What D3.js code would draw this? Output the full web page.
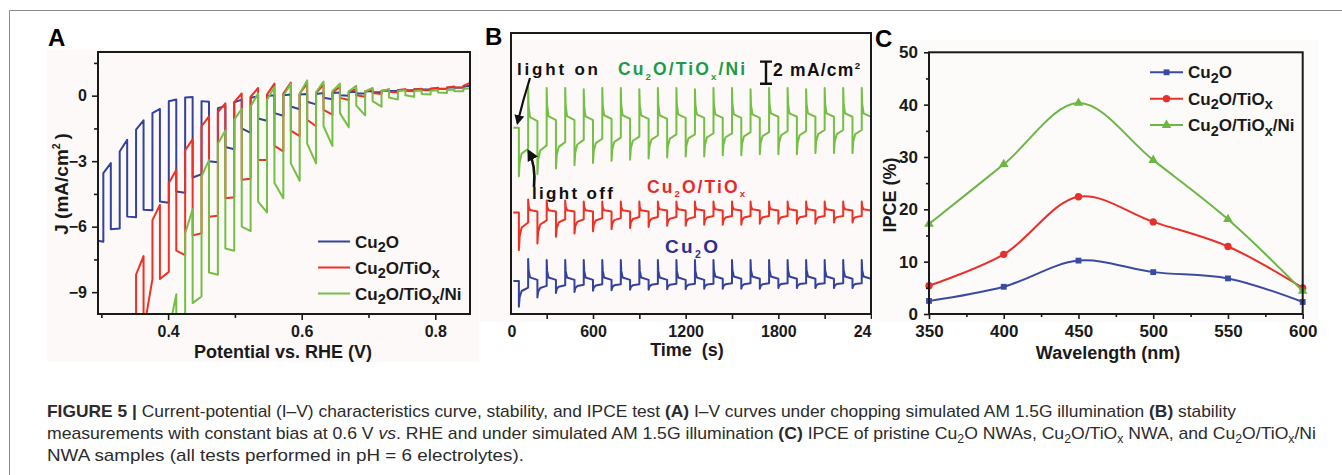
<!DOCTYPE html>
<html>
<head>
<meta charset="utf-8">
<script src="https://cdn.jsdelivr.net/npm/d3@7"></script>
<style>
  body { margin: 0; background: #fff; }
  svg { display: block; font-family: "Liberation Sans", Arial, sans-serif; }
</style>
</head>
<body>
<script>
// ---------- panel A: chopped I-V (V vs RHE, J in mA/cm2) ----------
const chopV = [0.303, 0.3275, 0.352, 0.3765, 0.401, 0.4255, 0.450, 0.4745, 0.499, 0.5235, 0.548, 0.5725,
  0.597, 0.6215, 0.646, 0.6705, 0.695, 0.7195, 0.744, 0.7685, 0.793, 0.8175, 0.842];
const darkWidth = 0.0112;
// each row: [dark start, dark end, light start, light end]
const cu2oPre = [-6.64, -6.69];
const cu2oIV = [
  [-3.55, -3.09, -6.12, -6.08], [-2.56, -2.02, -5.54, -5.57], [-1.56, -1.13, -5.23, -5.25],
  [-0.80, -0.61, -4.85, -4.90], [-0.26, -0.18, -4.39, -4.45], [-0.08, -0.06, -3.75, -3.60],
  [-0.25, -0.28, -3.00, -3.05], [-0.57, -0.47, -2.35, -2.45], [-0.30, -0.18, -1.50, -1.70],
  [-0.10, -0.03, -1.05, -1.15], [-0.02, 0.02, -0.80, -0.92], [0.02, 0.05, -0.50, -0.62],
  [0.05, 0.08, -0.28, -0.40], [0.08, 0.12, -0.10, -0.16], [0.12, 0.15, 0.02, 0.0],
  [0.16, 0.18, 0.10, 0.10], [0.19, 0.21, 0.16, 0.16], [0.22, 0.24, 0.21, 0.21],
  [0.26, 0.27, 0.25, 0.25], [0.29, 0.30, 0.28, 0.29], [0.32, 0.34, 0.32, 0.33],
  [0.36, 0.38, 0.36, 0.37], [0.41, 0.46, 0.43, 0.50]
];
const cu2oTiPre = [-14, -13];
const cu2oTiIV = [
  [-13.0, -12.5, -14.0, -13.5], [-11.5, -11.0, -13.0, -12.5], [-8.20, -7.35, -10.8, -8.40],
  [-5.70, -5.00, -8.40, -8.07], [-4.00, -3.40, -7.10, -7.30], [-2.50, -2.00, -6.40, -6.30],
  [-1.40, -0.95, -5.55, -5.50], [-0.75, -0.35, -4.70, -4.65], [-0.30, 0.10, -3.85, -3.80],
  [-0.05, 0.35, -2.95, -2.95], [0.05, 0.55, -2.30, -2.55], [0.10, 0.60, -1.60, -1.85],
  [0.10, 0.55, -1.10, -1.40], [0.12, 0.50, -0.65, -0.87], [0.15, 0.40, -0.10, -0.20],
  [0.18, 0.30, 0.02, -0.05], [0.20, 0.28, 0.12, 0.08], [0.22, 0.28, 0.18, 0.15],
  [0.25, 0.30, 0.22, 0.20], [0.28, 0.32, 0.26, 0.25], [0.32, 0.36, 0.30, 0.30],
  [0.38, 0.42, 0.37, 0.37], [0.45, 0.60, 0.50, 0.66]
];
const cu2oTiNiPre = [-16, -15];
const cu2oTiNiIV = [
  [-15.0, -14.5, -16.0, -15.5], [-14.0, -13.5, -15.0, -14.5], [-13.0, -12.5, -14.0, -13.5],
  [-12.0, -11.5, -13.0, -12.5], [-10.8, -9.10, -12.0, -11.0], [-6.30, -5.20, -9.50, -9.20],
  [-3.70, -2.95, -8.10, -8.20], [-2.20, -1.60, -7.00, -7.10], [-1.10, -0.60, -6.00, -6.20],
  [-0.50, 0.10, -4.85, -5.35], [-0.20, 0.40, -4.00, -4.70], [0.00, 0.55, -3.10, -3.90],
  [0.10, 0.70, -2.20, -3.10], [0.15, 0.65, -1.40, -2.30], [0.20, 0.55, -0.80, -1.45],
  [0.20, 0.45, -0.45, -0.90], [0.20, 0.35, -0.25, -0.50], [0.20, 0.30, -0.08, -0.18],
  [0.20, 0.25, 0.02, -0.05], [0.21, 0.24, 0.08, 0.05], [0.22, 0.25, 0.14, 0.12],
  [0.26, 0.28, 0.20, 0.20], [0.30, 0.35, 0.28, 0.45]
];

// ---------- panel B: stability at 0.6 V (offset traces, mA/cm2) ----------
const stabStart = 84;
const lightOnTimes = [120, 240, 360, 480, 600, 720, 840, 960, 1080, 1200, 1320, 1440, 1560, 1680,
  1800, 1920, 2040, 2160, 2280];
const halfPeriod = 60;
const greenDark = [16.9, 17.5, 17.6, 17.6, 17.6, 17.7, 17.7, 17.7, 17.7, 17.8, 17.8, 17.8, 17.8, 17.8,
  17.9, 17.9, 17.9, 17.9, 17.9, 17.9];
const greenLow = [12.5, 12.7, 13.2, 13.5, 13.7, 13.9, 14.0, 14.1, 14.2, 14.3, 14.3, 14.4, 14.4, 14.5,
  14.5, 14.5, 14.6, 14.6, 14.6];
const greenLight = [15.0, 15.3, 15.6, 15.8, 15.9, 16.0, 16.1, 16.2, 16.3, 16.3, 16.4, 16.4, 16.5, 16.5,
  16.6, 16.6, 16.7, 16.7, 16.7];
const greenPeak = [20.6, 20.5, 20.5, 20.4, 20.5, 20.5, 20.4, 20.5, 20.5, 20.4, 20.5, 20.5, 20.4, 20.5,
  20.5, 20.4, 20.5, 20.5, 20.5];
const redDark = [9.2, 9.3, 9.3, 9.3, 9.3, 9.3, 9.3, 9.3, 9.4, 9.4, 9.4, 9.4, 9.4, 9.4, 9.4, 9.4, 9.4,
  9.4, 9.4, 9.4];
const redLow = [5.8, 6.4, 7.0, 7.3, 7.5, 7.7, 7.8, 7.9, 8.0, 8.0, 8.1, 8.1, 8.1, 8.2, 8.2, 8.2, 8.2,
  8.3, 8.3];
const redLight = [8.3, 8.5, 8.6, 8.6, 8.7, 8.7, 8.8, 8.8, 8.8, 8.8, 8.9, 8.9, 8.9, 8.9, 8.9, 8.9, 8.9,
  8.9, 8.9];
const redPeak = [10.4, 10.3, 10.3, 10.2, 10.2, 10.2, 10.2, 10.2, 10.2, 10.2, 10.2, 10.2, 10.2, 10.2,
  10.2, 10.2, 10.2, 10.2, 10.2];
const blueDark = [3.0, 3.1, 3.1, 3.1, 3.1, 3.1, 3.1, 3.1, 3.1, 3.1, 3.1, 3.2, 3.2, 3.2, 3.2, 3.2, 3.2,
  3.2, 3.2, 3.2];
const blueLow = [0.66, 1.5, 1.9, 2.0, 2.1, 2.15, 2.2, 2.2, 2.25, 2.25, 2.3, 2.3, 2.3, 2.3, 2.35, 2.35,
  2.35, 2.35, 2.35];
const blueLight = [2.4, 2.55, 2.6, 2.65, 2.7, 2.7, 2.7, 2.75, 2.75, 2.75, 2.75, 2.8, 2.8, 2.8, 2.8, 2.8,
  2.8, 2.8, 2.8];
const bluePeak = [5.0, 4.9, 4.9, 4.9, 4.9, 4.9, 4.9, 4.9, 4.9, 4.9, 4.9, 4.9, 4.9, 4.9, 4.9, 4.9, 4.9,
  4.9, 4.9];
// transient shapes: [seconds after switch, fraction of the step]
const recoverShape = [[5, 0.5], [18, 0.82], [60, 1]];
const decayShape = [[3, 0.45], [12, 0.12], [60, 0]];

// ---------- panel C: IPCE ----------
const wavelengths = [350, 400, 450, 500, 550, 600];
const ipceCu2O = [2.5, 5.2, 10.2, 8.0, 6.8, 2.3];
const ipceCu2OTi = [5.4, 11.4, 22.4, 17.6, 12.9, 5.0];
const ipceCu2OTiNi = [17.2, 28.6, 40.3, 29.4, 18.1, 4.4];

const BLUE = "#33429c", RED = "#ee3124", GREEN = "#74bf44";
const FONT = "'Liberation Sans', Arial, sans-serif";

const svg = d3.select("body").append("svg").attr("width", 1342).attr("height", 475);

// rich text helper: parts are strings or [text, "sub"|"sup"|"b"|"i"]
function rich(textSel, parts, size, subScale) {
  let shift = 0;
  parts.forEach(p => {
    const txt = typeof p === "string" ? p : p[0];
    const kind = typeof p === "string" ? null : p[1];
    let target = 0;
    const t = textSel.append("tspan").text(txt);
    if (kind === "sub") { target = size * 0.28; t.attr("font-size", size * subScale); }
    if (kind === "sup") { target = -size * 0.42; t.attr("font-size", size * subScale); }
    if (kind === "b") t.attr("font-weight", "bold");
    if (kind === "i") t.attr("font-style", "italic");
    if (target !== shift) { t.attr("dy", target - shift); shift = target; }
  });
}

// figure border
svg.append("path").attr("d", "M9.5,475V10.5H1342").attr("fill", "none").attr("stroke", "#8a8a8a");

// faint panel backgrounds
svg.append("rect").attr("x", 47).attr("y", 50).attr("width", 432).attr("height", 312).attr("fill", "#fdf9f9");
svg.append("rect").attr("x", 480).attr("y", 40).attr("width", 392).attr("height", 282).attr("fill", "#fdf9f9");

function styleAxis(g, size) {
  g.select(".domain").remove();
  g.selectAll(".tick line").attr("stroke", "#1a1a1a").attr("stroke-width", 1.6);
  g.selectAll(".tick text").attr("font-family", FONT).attr("font-weight", "bold")
    .attr("font-size", size).attr("fill", "#1a1a1a");
}
function minorTicks(g) {
  g.select(".domain").remove();
  g.selectAll(".tick text").remove();
  g.selectAll(".tick line").attr("stroke", "#1a1a1a").attr("stroke-width", 1.6);
}

// ================= PANEL A =================
const xA = d3.scaleLinear().domain([0.295, 0.852]).range([98, 470]);
const yA = d3.scaleLinear().domain([-10, 2]).range([314, 52]);
const gA = svg.append("g");
svg.append("clipPath").attr("id", "clipA").append("rect")
  .attr("x", 98).attr("y", 52).attr("width", 372).attr("height", 262);

function ivPoints(pre, cycles) {
  const pts = [[xA.domain()[0], pre[0]], [chopV[0], pre[1]]];
  cycles.forEach((c, k) => {
    const v0 = chopV[k];
    const v1 = k + 1 < chopV.length ? chopV[k + 1] : xA.domain()[1] + 0.01;
    pts.push([v0, c[0]], [v0 + darkWidth, c[1]], [v0 + darkWidth, c[2]], [v1, c[3]]);
  });
  return pts;
}
const lineA = d3.line().x(d => xA(d[0])).y(d => yA(d[1]));
const seriesA = [
  { pts: ivPoints(cu2oPre, cu2oIV), color: BLUE },
  { pts: ivPoints(cu2oTiPre, cu2oTiIV), color: RED },
  { pts: ivPoints(cu2oTiNiPre, cu2oTiNiIV), color: GREEN }
];
gA.append("g").attr("clip-path", "url(#clipA)").selectAll("path").data(seriesA).enter().append("path")
  .attr("d", d => lineA(d.pts)).attr("fill", "none").attr("stroke", d => d.color)
  .attr("stroke-width", 2).attr("stroke-linejoin", "round");

const gAy = gA.append("g").attr("transform", "translate(98,0)")
  .call(d3.axisLeft(yA).tickValues([0, -3, -6, -9]).tickFormat(d3.format("d")).tickSize(6).tickPadding(5));
styleAxis(gAy, 16);
gA.append("g").attr("transform", "translate(98,0)")
  .call(d3.axisLeft(yA).tickValues([1.5, -1.5, -4.5, -7.5]).tickSize(4)).call(minorTicks);
const gAx = gA.append("g").attr("transform", "translate(0,314)")
  .call(d3.axisBottom(xA).tickValues([0.4, 0.6, 0.8]).tickFormat(d3.format(".1f")).tickSize(6).tickPadding(6));
styleAxis(gAx, 16);
gA.append("g").attr("transform", "translate(0,314)")
  .call(d3.axisBottom(xA).tickValues([0.3, 0.5, 0.7]).tickSize(4)).call(minorTicks);
gA.append("rect").attr("x", 98).attr("y", 52).attr("width", 372).attr("height", 262)
  .attr("fill", "none").attr("stroke", "#1a1a1a").attr("stroke-width", 2);

gA.append("text").attr("x", 283).attr("y", 358).attr("text-anchor", "middle")
  .attr("font-weight", "bold").attr("font-size", 18).attr("fill", "#1a1a1a").text("Potential vs. RHE (V)");
const jLabel = gA.append("text").attr("transform", "translate(68,184) rotate(-90)")
  .attr("text-anchor", "middle").attr("font-weight", "bold").attr("font-size", 19).attr("fill", "#1a1a1a");
rich(jLabel, ["J (mA/cm", ["2", "sup"], ["\u2009)", "base"]], 19, 0.55);

const legendA = [
  { parts: ["Cu", ["2", "sub"], "O"], color: BLUE },
  { parts: ["Cu", ["2", "sub"], "O/TiO", ["x", "sub"]], color: RED },
  { parts: ["Cu", ["2", "sub"], "O/TiO", ["x", "sub"], "/Ni"], color: GREEN }
];
legendA.forEach((d, i) => {
  const y = 241.5 + i * 26;
  gA.append("line").attr("x1", 318).attr("x2", 350).attr("y1", y).attr("y2", y)
    .attr("stroke", d.color).attr("stroke-width", 2);
  const t = gA.append("text").attr("x", 355).attr("y", y + 6).attr("font-weight", "bold")
    .attr("font-size", 17).attr("fill", "#1a1a1a");
  rich(t, d.parts, 17, 0.85);
});

// ================= PANEL B =================
const xB = d3.scaleLinear().domain([69, 2400]).range([511, 871]);
const yB = d3.scaleLinear().domain([0, 25.5]).range([314, 33]);
const gB = svg.append("g");
svg.append("clipPath").attr("id", "clipB").append("rect")
  .attr("x", 511).attr("y", 33).attr("width", 360).attr("height", 281);

function stabilityPoints(dark, low, light, peak) {
  const pts = [[stabStart, dark[0]]];
  lightOnTimes.forEach((t, k) => {
    pts.push([t, dark[k]], [t, low[k]]);
    recoverShape.forEach(([dt, f]) => pts.push([t + dt, low[k] + f * (light[k] - low[k])]));
    const tp = t + halfPeriod;
    pts.push([tp, peak[k]]);
    decayShape.forEach(([dt, f]) => pts.push([tp + dt, dark[k + 1] + f * (peak[k] - dark[k + 1])]));
  });
  return pts;
}
const lineB = d3.line().x(d => xB(d[0])).y(d => yB(d[1]));
const seriesB = [
  { pts: stabilityPoints(greenDark, greenLow, greenLight, greenPeak), color: GREEN },
  { pts: stabilityPoints(redDark, redLow, redLight, redPeak), color: RED },
  { pts: stabilityPoints(blueDark, blueLow, blueLight, bluePeak), color: BLUE }
];
gB.append("g").attr("clip-path", "url(#clipB)").selectAll("path").data(seriesB).enter().append("path")
  .attr("d", d => lineB(d.pts)).attr("fill", "none").attr("stroke", d => d.color)
  .attr("stroke-width", 2).attr("stroke-linejoin", "round");

const gBx = gB.append("g").attr("transform", "translate(0,314)")
  .call(d3.axisBottom(xB).tickValues([600, 1200, 1800, 2400]).tickFormat(d3.format("d")).tickSize(5).tickPadding(7));
styleAxis(gBx, 16);
gB.append("g").attr("transform", "translate(0,314)")
  .call(d3.axisBottom(xB).tickValues([300, 900, 1500, 2100]).tickSize(5)).call(minorTicks);
gB.append("text").attr("x", 512).attr("y", 336.5).attr("text-anchor", "middle")
  .attr("font-weight", "bold").attr("font-size", 16).attr("fill", "#1a1a1a").text("0");
gB.append("rect").attr("x", 511).attr("y", 33).attr("width", 360).attr("height", 281)
  .attr("fill", "none").attr("stroke", "#1a1a1a").attr("stroke-width", 2);
gB.append("text").attr("x", 687).attr("y", 356).attr("text-anchor", "middle").attr("xml:space", "preserve")
  .attr("font-weight", "bold").attr("font-size", 18).attr("fill", "#1a1a1a").text("Time  (s)");

// annotations
const defs = svg.append("defs");
defs.append("marker").attr("id", "arrow").attr("viewBox", "0 0 10 10").attr("refX", 8).attr("refY", 5)
  .attr("markerWidth", 4.5).attr("markerHeight", 4.5).attr("orient", "auto")
  .append("path").attr("d", "M0,0L10,5L0,10z").attr("fill", "#111");
gB.append("path").attr("d", "M530,78 Q523,100 517.5,123").attr("fill", "none").attr("stroke", "#111")
  .attr("stroke-width", 2.2).attr("marker-end", "url(#arrow)");
gB.append("path").attr("d", "M534,187 Q536,165 528.5,151").attr("fill", "none").attr("stroke", "#111")
  .attr("stroke-width", 2.6).attr("marker-end", "url(#arrow)");

function bText(x, y, w, parts, color, size) {
  const t = gB.append("text").attr("x", x).attr("y", y).attr("font-weight", "bold").attr("font-size", size)
    .attr("fill", color).attr("textLength", w).attr("lengthAdjust", "spacing");
  rich(t, parts, size, 0.55);
}
bText(517, 75, 81, ["light on"], "#111", 17);
bText(532, 198.5, 81, ["light off"], "#111", 17);
bText(618, 75, 127, ["Cu", ["2", "sub"], "O/TiO", ["x", "sub"], "/Ni"], "#1e9b48", 17.5);
bText(647, 192.5, 98, ["Cu", ["2", "sub"], "O/TiO", ["x", "sub"]], "#e52a2a", 17.5);
bText(665, 253, 53, ["Cu", ["2", "sub"], "O"], "#2e2f8f", 19);
bText(773, 76, 87, ["2 mA/cm", ["2", "sup"]], "#111", 17.5);
// 2 mA/cm2 scale bar, built from the y scale
const barTop = yB(22.9), barBot = yB(22.9 - 2);
gB.append("path")
  .attr("d", `M760,${barTop}H772M766,${barTop}V${barBot}M760,${barBot}H772`)
  .attr("fill", "none").attr("stroke", "#111").attr("stroke-width", 2.4);

// ================= PANEL C =================
svg.append("rect").attr("x", 872).attr("y", 38).attr("width", 470).attr("height", 332).attr("fill", "#fff");
svg.append("rect").attr("x", 873).attr("y", 40).attr("width", 445).attr("height", 282).attr("fill", "#fdfafa");
const xC = d3.scaleLinear().domain([350, 600]).range([929, 1302.7]);
const yC = d3.scaleLinear().domain([0, 50]).range([314, 52.3]);
const gC = svg.append("g");
const seriesC = [
  { vals: ipceCu2O, color: "#3a4ba6", marker: d3.symbolSquare, size: 34 },
  { vals: ipceCu2OTi, color: "#e8302a", marker: d3.symbolCircle, size: 42 },
  { vals: ipceCu2OTiNi, color: "#6cb644", marker: d3.symbolTriangle, size: 40 }
];
const lineC = d3.line().x((d, i) => xC(wavelengths[i])).y(d => yC(d)).curve(d3.curveCatmullRom.alpha(0.5));
seriesC.forEach(s => {
  gC.append("path").attr("d", lineC(s.vals)).attr("fill", "none").attr("stroke", s.color).attr("stroke-width", 2);
  gC.selectAll(null).data(s.vals).enter().append("path")
    .attr("transform", (d, i) => `translate(${xC(wavelengths[i])},${yC(d)})`)
    .attr("d", d3.symbol().type(s.marker).size(s.size)).attr("fill", s.color);
});
const gCy = gC.append("g").attr("transform", "translate(929,0)")
  .call(d3.axisLeft(yC).tickValues([0, 10, 20, 30, 40, 50]).tickSize(5).tickPadding(6));
styleAxis(gCy, 17);
gC.append("g").attr("transform", "translate(929,0)")
  .call(d3.axisLeft(yC).tickValues([5, 15, 25, 35, 45]).tickSize(3)).call(minorTicks);
const gCx = gC.append("g").attr("transform", "translate(0,314)")
  .call(d3.axisBottom(xC).tickValues(wavelengths).tickSize(5).tickPadding(6));
styleAxis(gCx, 17);
gC.append("g").attr("transform", "translate(0,314)")
  .call(d3.axisBottom(xC).tickValues([375, 425, 475, 525, 575]).tickSize(3)).call(minorTicks);
gC.append("rect").attr("x", 929).attr("y", 52.3).attr("width", 373.7).attr("height", 261.7)
  .attr("fill", "none").attr("stroke", "#1a1a1a").attr("stroke-width", 2);
gC.append("text").attr("x", 1108).attr("y", 359).attr("text-anchor", "middle")
  .attr("font-weight", "bold").attr("font-size", 18).attr("fill", "#1a1a1a").text("Wavelength (nm)");
gC.append("text").attr("transform", "translate(896,195) rotate(-90)").attr("text-anchor", "middle")
  .attr("font-weight", "bold").attr("font-size", 18).attr("fill", "#1a1a1a").text("IPCE (%)");
const legendC = [
  { parts: ["Cu", ["2", "sub"], "O"] },
  { parts: ["Cu", ["2", "sub"], "O/TiO", ["x", "sub"]] },
  { parts: ["Cu", ["2", "sub"], "O/TiO", ["x", "sub"], "/Ni"] }
];
legendC.forEach((d, i) => {
  const s = seriesC[i], y = 72.3 + i * 26.4;
  gC.append("line").attr("x1", 1150).attr("x2", 1183).attr("y1", y).attr("y2", y)
    .attr("stroke", s.color).attr("stroke-width", 2);
  gC.append("path").attr("transform", `translate(1166.5,${y})`)
    .attr("d", d3.symbol().type(s.marker).size(s.size)).attr("fill", s.color);
  const t = gC.append("text").attr("x", 1188).attr("y", y + 6).attr("font-weight", "bold")
    .attr("font-size", 17).attr("fill", "#1a1a1a");
  rich(t, d.parts, 17, 0.85);
});

// panel letters
[["A", 48, 46], ["B", 485, 45], ["C", 875, 46.5]].forEach(([l, x, y]) => {
  svg.append("text").attr("x", x).attr("y", y).attr("font-weight", "bold").attr("font-size", 24)
    .attr("fill", "#000").text(l);
});

// ================= caption =================
const captionLines = [
  [["FIGURE 5 | ", "b"], "Current-potential (I\u2013V) characteristics curve, stability, and IPCE test ", ["(A)", "b"],
    " I\u2013V curves under chopping simulated AM 1.5G illumination ", ["(B)", "b"], " stability"],
  ["measurements with constant bias at 0.6 V ", ["vs", "i"], ". RHE and under simulated AM 1.5G illumination ",
    ["(C)", "b"], " IPCE of pristine Cu", ["2", "sub"], "O NWAs, Cu", ["2", "sub"], "O/TiO", ["x", "sub"],
    " NWA, and Cu", ["2", "sub"], "O/TiO", ["x", "sub"], "/Ni"],
  ["NWA samples (all tests performed in pH = 6 electrolytes)."]
];
const captionWidths = [1189, 1269, 477];
captionLines.forEach((parts, i) => {
  const t = svg.append("text").attr("x", 47).attr("y", 416.5 + i * 22).attr("font-size", 17)
    .attr("fill", "#2b2b2b").attr("textLength", captionWidths[i]).attr("lengthAdjust", "spacingAndGlyphs");
  rich(t, parts, 17, 0.7);
});
</script>
</body>
</html>
